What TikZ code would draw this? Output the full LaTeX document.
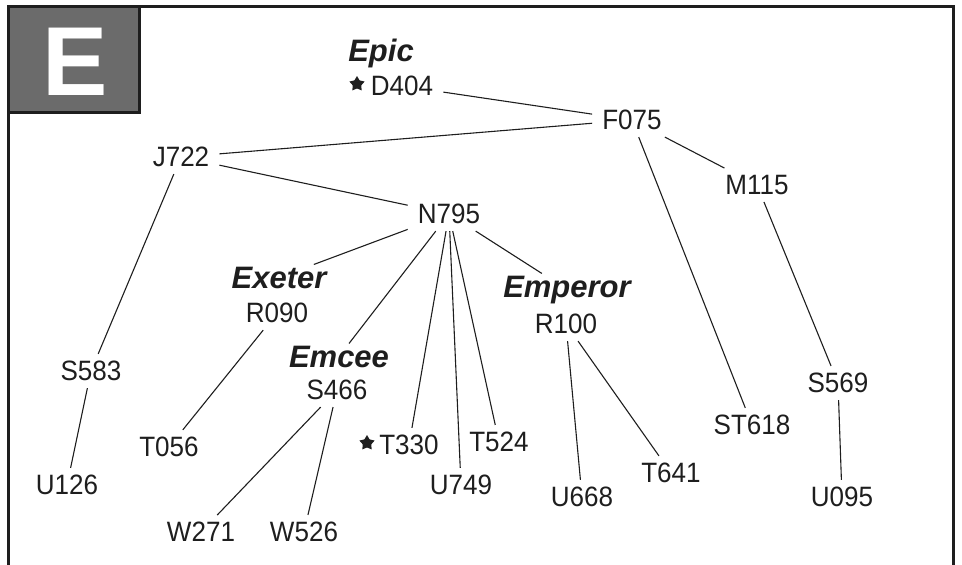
\documentclass[tikz,border=0pt]{standalone}
\usepackage{fontspec}
\setmainfont{Liberation Sans}
\newfontfamily\tallsans{Liberation Sans}[FakeStretch=0.93]
\usetikzlibrary{shapes.geometric}

\definecolor{ink}{HTML}{1E1E1E}
\definecolor{tabgray}{HTML}{6B6B6B}

\tikzset{
	code/.style={text=ink, inner xsep=10pt, inner ysep=7pt, font=\tallsans\fontsize{28}{32}\selectfont},
	tag/.style={text=ink, inner sep=2pt, anchor=base, font=\fontsize{31}{36}\selectfont\bfseries\itshape},
	starsym/.style={star, star points=5, star point ratio=1.8, fill=ink, inner sep=0pt, minimum size=16pt},
	link/.style={draw=ink, line width=1.1pt},
}

\begin{document}
\begin{tikzpicture}[x=1pt, y=-1pt]
	\useasboundingbox (0,0) rectangle (962,565);
	% frame, open at the bottom
	\draw[ink, line width=3pt] (8,565) -- (8,6) -- (953,6) -- (953,565);
	\draw[ink, line width=3pt, fill=tabgray] (8,6) rectangle (139,112);
	\node[anchor=base, text=white, font=\fontsize{98}{100}\selectfont\bfseries] (letter) at (75,95) {E};

	\node[tag] (epic) at (381,61) {Epic};
	\node[code] (D404) at (402,86) {D404};
	\node[starsym] (star1) at (357,84) {};
	\node[code] (F075) at (632,120) {F075};
	\node[code] (J722) at (181,157) {J722};
	\node[code] (M115) at (757,185) {M115};
	\node[code] (N795) at (449,214) {N795};
	\node[tag] (exeter) at (279,288) {Exeter};
	\node[code] (R090) at (277,313) {R090};
	\node[tag] (emperor) at (567,297) {Emperor};
	\node[code] (R100) at (566,324) {R100};
	\node[tag] (emcee) at (339,367) {Emcee};
	\node[code] (S466) at (337,390) {S466};
	\node[code] (S583) at (91,371) {S583};
	\node[code] (S569) at (838,383) {S569};
	\node[code] (ST618) at (752,425) {ST618};
	\node[code] (T056) at (169,447) {T056};
	\node[starsym] (star2) at (367,443) {};
	\node[code] (T330) at (409,445) {T330};
	\node[code] (T524) at (499,442) {T524};
	\node[code] (U749) at (461,485) {U749};
	\node[code] (T641) at (671,473) {T641};
	\node[code] (U668) at (582,497) {U668};
	\node[code] (U126) at (67,485) {U126};
	\node[code] (U095) at (842,497) {U095};
	\node[code] (W271) at (201,532) {W271};
	\node[code] (W526) at (304,532) {W526};

	\foreach \a/\b in {D404/F075, F075/J722, J722/N795, F075/M115, F075/ST618,
		M115/S569, S569/U095, J722/S583, S583/U126,
		N795/exeter, N795/emcee, N795/T330, N795/U749, N795/T524, N795/emperor,
		R090/T056, S466/W271, S466/W526, R100/U668, R100/T641}{
		\draw[link] (\a) -- (\b);
	}
\end{tikzpicture}
\end{document}
